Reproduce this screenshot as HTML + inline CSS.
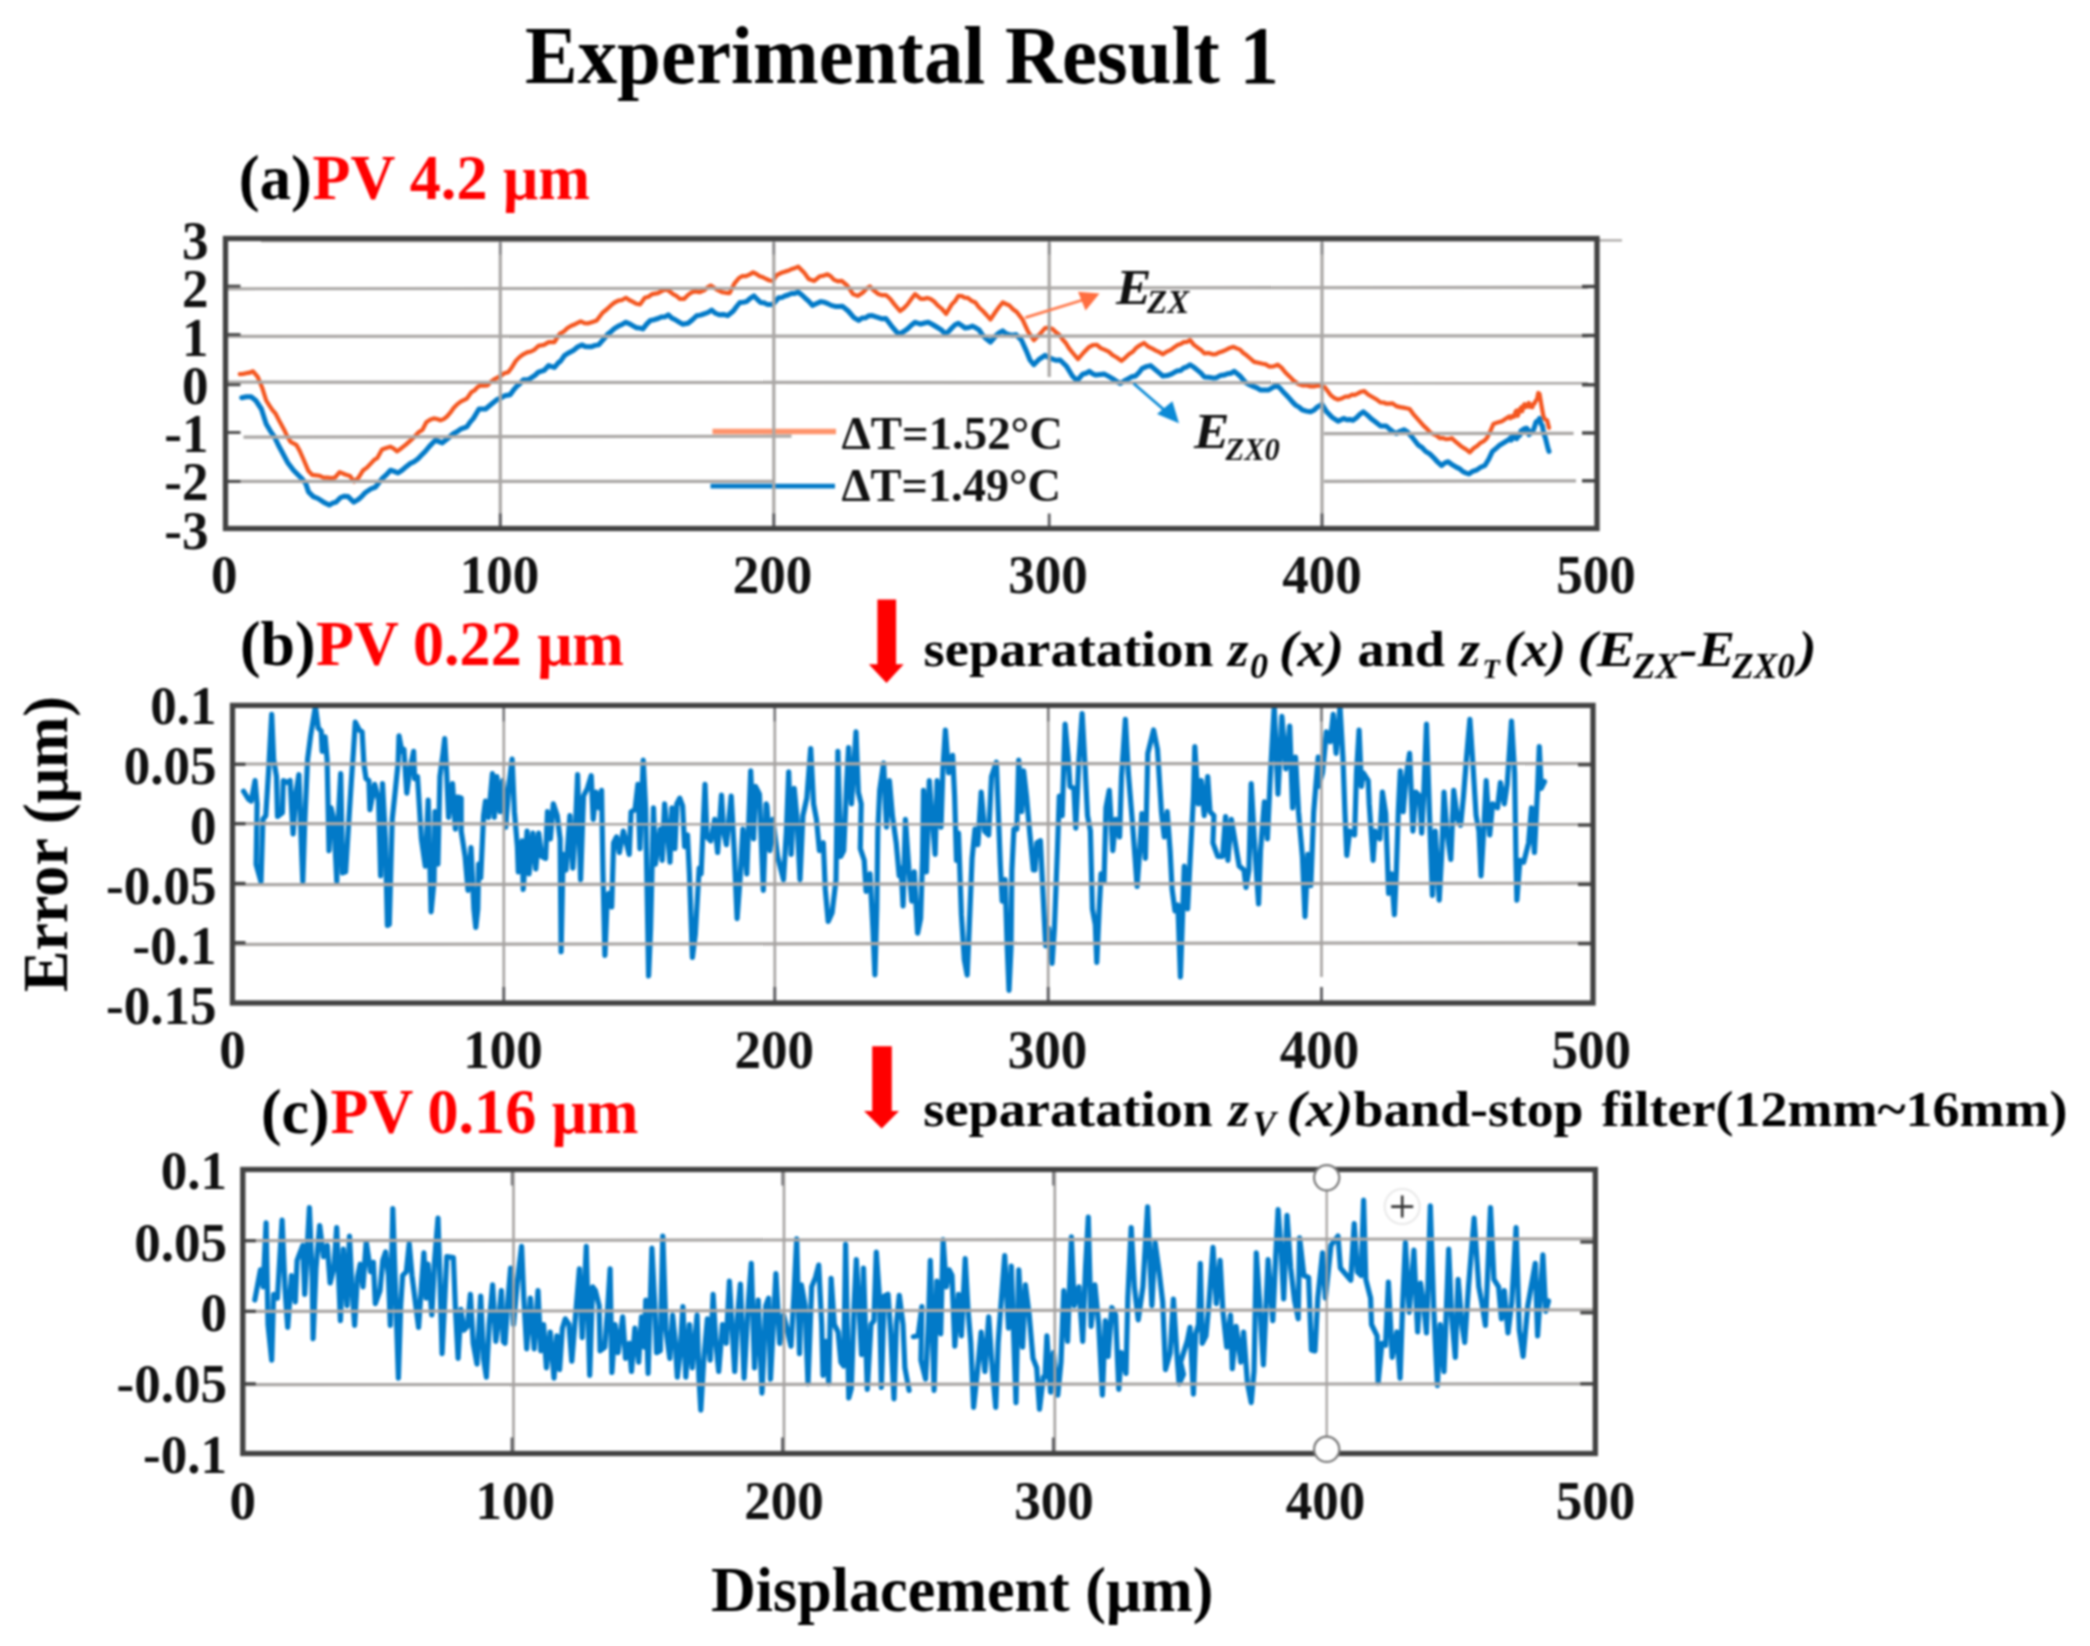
<!DOCTYPE html>
<html><head><meta charset="utf-8"><title>Experimental Result 1</title>
<style>html,body{margin:0;padding:0;background:#fff}svg{display:block;filter:blur(1.1px)}text{font-family:"Liberation Serif",serif;font-weight:bold}</style>
</head><body>
<svg width="2090" height="1646" viewBox="0 0 2090 1646">
<rect x="0" y="0" width="2090" height="1646" fill="#ffffff"/>
<text id="title" x="525" y="82.5" font-size="82" textLength="754" lengthAdjust="spacingAndGlyphs" fill="#000">Experimental Result 1</text>
<g id="plotA">
<polyline points="239.8,374.1 243.1,373.9 246.4,373.2 249.7,372.7 253.0,371.3 257.7,376.9 262.4,388.3 266.2,400.5 269.3,405.4 272.5,410.1 275.6,413.7 279.9,422.1 284.1,429.7 287.4,436.6 290.6,441.9 296.3,444.8 299.6,450.6 302.9,458.0 308.5,471.1 312.3,474.9 316.1,475.3 319.8,475.9 323.6,477.6 327.4,477.7 331.1,478.0 334.9,477.7 339.6,472.1 345.3,474.5 350.0,475.9 354.1,481.5 358.5,477.7 363.2,470.2 366.9,467.6 370.7,463.6 374.0,460.1 377.3,458.0 382.0,449.5 386.2,448.0 390.5,446.7 393.8,448.6 397.1,451.4 401.4,448.2 405.6,444.8 409.8,441.1 414.0,437.2 418.2,432.6 422.5,429.7 426.3,422.2 430.1,419.8 433.8,418.4 437.1,419.0 440.4,420.3 443.7,419.1 447.0,416.5 450.3,412.7 453.6,408.0 457.4,404.1 461.1,401.4 466.8,398.6 471.5,392.0 474.6,390.3 477.8,386.9 480.9,385.4 484.2,385.6 487.5,385.4 491.3,381.4 495.1,378.8 500.7,376.0 504.4,373.2 508.2,372.2 512.0,367.2 515.8,360.9 519.5,357.1 523.3,354.3 527.1,352.4 530.9,351.5 534.6,349.6 538.4,345.9 544.0,344.9 548.7,342.1 554.4,342.1 559.1,334.6 560.0,333.6 563.8,331.5 567.5,328.0 571.3,325.7 575.1,324.2 580.7,321.4 584.5,323.2 588.3,323.3 592.5,321.9 596.7,320.4 602.4,312.9 606.6,309.5 610.9,305.4 614.6,302.5 618.4,300.6 622.1,300.0 625.9,297.8 629.2,300.0 632.5,301.6 636.3,303.8 640.1,304.4 644.8,297.8 648.5,296.7 652.3,294.1 658.0,293.1 662.2,290.8 666.4,289.3 669.7,291.5 673.0,294.1 676.3,295.8 679.6,298.8 684.3,298.8 688.1,294.9 691.9,292.2 695.6,291.4 699.4,292.2 704.1,290.3 707.4,287.6 710.7,285.6 716.4,289.3 722.0,292.2 725.8,292.8 729.6,293.1 734.3,283.7 739.0,278.0 742.3,276.2 745.6,276.2 749.4,274.6 753.1,272.4 756.4,274.0 759.7,276.2 763.0,277.3 766.3,279.0 769.6,280.5 772.9,280.9 776.7,275.2 782.3,272.4 785.6,271.4 788.9,270.5 792.0,268.9 795.2,267.9 798.3,266.7 804.0,272.4 808.7,279.0 814.3,280.9 820.0,276.2 823.8,275.6 827.5,274.3 830.8,276.3 834.1,279.9 837.9,281.3 841.7,280.9 847.3,285.6 853.0,294.1 857.7,295.9 863.3,292.2 866.6,288.5 869.9,286.5 874.1,290.7 878.4,294.1 882.1,295.2 885.9,295.0 890.1,298.8 894.4,304.4 900.0,311.0 903.8,308.2 907.5,304.4 911.3,299.0 915.1,294.1 920.7,298.8 923.8,298.9 927.0,297.9 930.1,298.8 933.9,301.3 937.7,305.4 942.0,309.0 946.2,313.8 951.8,304.4 955.1,301.0 958.4,295.9 961.5,296.0 964.7,297.6 967.8,297.8 971.6,300.9 975.4,302.5 979.1,307.5 982.9,311.0 986.6,315.0 990.4,319.5 996.1,311.0 999.4,306.5 1002.7,302.5 1006.0,304.0 1009.3,305.4 1013.0,309.2 1016.8,312.0 1022.5,319.5 1028.1,331.7 1033.8,340.2 1039.4,334.6 1045.1,328.0 1048.8,327.7 1052.6,328.9 1055.9,332.2 1059.2,334.6 1062.5,339.3 1065.8,343.0 1069.1,348.4 1072.4,352.5 1078.0,359.1 1083.7,352.5 1089.3,346.8 1093.1,345.0 1096.9,344.9 1100.7,348.1 1104.4,349.6 1108.7,351.7 1112.9,355.3 1117.2,357.8 1121.4,360.9 1125.2,357.8 1128.9,354.3 1132.7,351.8 1136.4,347.7 1140.2,345.1 1144.0,343.0 1148.2,346.6 1152.4,348.7 1155.9,350.6 1159.3,352.1 1162.8,354.3 1167.0,351.6 1171.3,349.6 1174.4,347.2 1177.6,345.1 1180.7,344.0 1183.8,342.1 1187.0,341.8 1190.1,340.2 1193.9,344.8 1197.7,347.7 1201.0,349.9 1204.3,353.4 1208.5,353.0 1212.7,354.3 1215.9,354.2 1219.0,352.5 1222.2,351.5 1226.0,349.8 1229.7,347.9 1233.5,346.8 1236.8,348.4 1240.0,349.6 1243.3,353.0 1246.6,355.3 1250.3,358.5 1254.1,361.9 1258.3,362.7 1262.6,363.8 1265.9,364.4 1269.2,366.6 1273.5,366.4 1277.7,364.7 1281.5,367.6 1285.2,372.2 1289.5,376.4 1293.7,380.7 1298.0,383.7 1302.2,385.4 1306.4,385.2 1310.6,386.4 1314.8,386.3 1319.1,385.4 1324.8,387.3 1330.4,394.8 1334.2,398.0 1338.0,399.6 1341.8,398.4 1345.5,396.7 1348.6,396.6 1351.8,394.7 1354.9,394.8 1358.0,393.4 1361.2,391.7 1364.3,391.1 1368.1,394.5 1371.9,396.7 1376.2,399.2 1380.4,402.4 1383.5,402.5 1386.5,403.7 1389.5,403.7 1392.6,403.3 1396.3,406.1 1400.1,407.1 1403.3,407.6 1406.4,408.3 1409.6,409.0 1413.3,414.1 1417.1,418.4 1420.4,422.1 1423.7,425.9 1427.0,428.8 1430.3,432.5 1433.4,434.2 1436.6,435.7 1439.7,438.2 1442.8,438.0 1445.8,439.1 1448.9,439.0 1451.9,438.2 1456.2,442.2 1460.4,445.7 1463.5,447.9 1466.7,449.8 1469.8,452.3 1473.6,448.3 1477.4,445.7 1480.5,442.8 1483.7,441.2 1486.8,438.2 1490.1,431.8 1493.4,424.0 1497.7,422.4 1501.9,421.2 1509.2,416.4 1510.3,418.2 1511.3,417.5 1512.4,415.9 1513.4,416.9 1514.5,416.3 1515.6,411.6 1516.7,410.6 1517.7,415.8 1518.8,412.7 1519.9,409.3 1521.1,407.4 1522.2,411.2 1523.4,405.8 1524.5,404.3 1525.6,407.0 1526.7,404.7 1527.8,406.2 1528.9,403.0 1530.0,406.8 1531.1,406.1 1532.3,407.3 1533.4,403.5 1534.6,403.6 1535.8,400.5 1537.0,399.5 1538.3,393.0 1539.5,393.9 1541.4,405.2 1543.3,415.6 1544.6,419.0 1547.1,420.3 1549.0,427.8" fill="none" stroke="#f4561f" stroke-width="4.2" stroke-linejoin="round" stroke-linecap="round"/>
<polyline points="241.7,397.7 246.4,396.7 251.1,396.7 255.8,400.5 261.4,409.0 266.2,424.0 270.4,431.1 274.6,437.2 278.4,445.3 282.2,452.3 287.8,462.7 293.5,470.2 297.2,473.9 301.0,477.7 305.7,483.4 308.5,491.9 313.3,496.6 318.0,498.5 323.6,502.2 329.3,505.1 332.6,503.2 335.9,502.2 340.6,497.5 344.4,496.2 348.1,496.6 353.8,502.2 358.5,499.4 361.8,496.4 365.1,492.8 370.7,489.0 375.4,487.2 378.7,482.9 382.0,478.7 386.2,474.9 390.5,470.2 394.2,471.4 398.0,473.0 402.2,470.2 406.5,466.4 410.2,463.6 414.0,461.7 417.8,458.9 421.6,455.1 425.4,451.3 429.1,446.7 432.4,443.2 435.7,440.1 439.0,441.6 442.3,442.9 448.0,438.2 453.6,433.5 457.4,431.5 461.1,428.8 466.8,426.9 470.1,422.1 473.4,418.4 479.0,409.0 482.3,409.1 485.6,409.0 491.3,404.3 496.9,399.6 500.7,398.2 504.5,395.8 510.1,394.8 513.4,390.2 516.7,386.4 520.0,383.6 523.3,379.8 528.0,379.8 531.5,377.6 534.9,375.4 538.4,372.2 544.0,370.4 548.7,365.6 554.4,367.5 559.1,361.9 560.0,361.9 564.7,355.3 569.0,352.7 573.2,350.6 577.5,347.0 581.7,344.9 585.0,346.4 588.3,346.8 591.7,346.7 595.2,345.4 598.6,344.9 604.3,338.3 607.6,334.3 610.9,331.7 614.6,328.4 618.4,326.1 622.1,324.4 625.9,322.3 629.7,323.8 633.5,326.1 636.6,327.8 639.8,328.1 642.9,328.9 646.6,324.1 650.4,320.4 654.2,319.7 658.0,318.5 661.4,317.0 664.9,316.8 668.3,314.8 671.6,317.9 674.9,319.5 678.7,321.9 682.5,324.2 688.1,323.3 692.4,319.8 696.6,315.7 700.4,315.1 704.1,313.8 707.9,312.5 711.7,310.1 715.5,313.3 719.2,314.8 723.5,314.4 727.7,315.7 733.3,311.0 736.6,306.5 739.9,302.5 743.2,302.2 746.5,301.6 750.2,298.4 754.0,295.9 757.3,299.4 760.6,302.5 763.9,302.7 767.2,304.4 772.9,304.4 778.5,297.8 781.7,297.6 784.8,296.0 788.0,295.0 791.4,293.4 794.9,293.4 798.3,292.2 801.6,294.7 804.9,297.8 808.6,301.1 812.4,305.4 816.6,303.5 820.9,301.6 824.4,302.2 827.8,303.6 831.3,305.4 835.1,306.4 838.8,306.4 842.6,306.3 848.2,311.0 853.9,317.6 858.6,320.4 862.1,318.0 865.5,317.8 869.0,315.7 872.1,315.5 875.3,316.7 878.4,317.6 882.1,318.8 885.9,318.5 891.6,326.1 897.2,332.7 900.0,333.6 903.8,331.5 907.5,328.9 911.3,325.3 915.1,322.3 920.7,324.2 924.5,323.0 928.3,322.3 932.5,324.5 936.7,327.0 941.0,329.6 945.2,333.6 948.5,331.7 951.8,328.0 955.1,324.8 958.4,323.3 961.7,325.5 965.0,328.0 968.8,327.5 972.5,326.1 975.8,327.8 979.1,329.8 982.4,334.9 985.7,338.3 990.4,342.1 996.1,335.5 999.4,332.7 1002.7,330.8 1006.0,333.6 1009.3,334.6 1012.6,335.3 1015.9,334.6 1021.5,340.2 1026.2,350.6 1030.0,360.0 1033.8,364.7 1039.4,359.1 1045.1,355.3 1048.8,357.5 1052.6,359.1 1056.3,360.3 1060.1,360.0 1063.4,363.2 1066.7,366.6 1072.4,376.0 1077.1,380.7 1082.7,374.1 1086.0,373.3 1089.3,371.3 1092.6,373.7 1095.9,375.1 1100.2,374.6 1104.4,374.1 1108.7,376.4 1112.9,378.8 1116.7,381.5 1120.4,383.5 1124.2,381.0 1128.0,378.8 1131.8,376.7 1135.5,376.0 1138.8,372.7 1142.1,368.5 1146.3,366.6 1150.6,365.6 1156.2,370.4 1159.5,373.2 1162.8,376.0 1167.0,375.6 1171.3,374.1 1174.4,372.3 1177.6,370.8 1180.7,370.4 1183.8,367.8 1187.0,366.8 1190.1,364.7 1193.9,367.3 1197.7,370.4 1201.0,373.2 1204.3,376.9 1208.5,377.3 1212.7,377.9 1216.5,377.7 1220.2,375.6 1224.0,375.1 1227.5,373.7 1230.9,373.2 1234.4,371.3 1240.0,376.0 1245.7,382.6 1249.5,384.7 1253.2,386.4 1257.0,387.8 1260.7,390.1 1264.5,390.1 1268.3,390.1 1272.5,387.7 1276.7,385.4 1280.0,388.1 1283.3,392.0 1286.5,395.2 1289.6,398.6 1292.8,402.4 1295.9,405.4 1299.1,407.1 1302.2,409.9 1306.4,411.1 1310.6,411.8 1313.9,410.3 1317.2,407.1 1322.0,404.3 1326.7,411.8 1332.3,417.5 1338.0,421.2 1343.6,418.4 1346.7,419.8 1349.9,419.4 1353.0,420.3 1356.5,417.7 1359.9,414.3 1363.4,411.8 1367.7,415.4 1371.9,419.3 1376.2,422.6 1380.4,425.9 1386.0,425.9 1389.5,429.0 1392.9,431.8 1396.4,433.5 1400.2,431.2 1403.9,429.7 1407.7,432.1 1411.4,436.3 1414.7,440.5 1418.0,444.8 1421.8,447.3 1425.6,451.4 1429.8,453.9 1434.0,458.0 1437.8,462.2 1441.6,465.5 1444.9,462.9 1448.2,461.7 1452.5,464.9 1456.7,467.4 1459.8,468.8 1462.8,471.5 1465.9,473.0 1468.9,474.0 1472.7,471.3 1476.4,470.2 1480.7,467.3 1484.9,465.5 1488.7,459.3 1492.4,451.4 1495.7,448.8 1499.0,445.7 1509.2,439.3 1510.3,438.0 1511.3,440.1 1512.4,438.6 1513.4,436.3 1514.5,434.9 1515.6,436.2 1516.7,438.7 1517.7,437.1 1518.8,434.4 1519.9,435.2 1521.1,430.7 1522.2,431.8 1523.4,429.2 1524.5,429.7 1525.6,428.2 1526.7,428.3 1527.9,429.6 1529.0,434.7 1530.1,432.5 1531.3,433.0 1532.4,431.2 1533.6,429.5 1534.8,425.9 1536.0,422.1 1537.2,420.9 1538.3,421.1 1539.5,418.4 1541.0,423.6 1542.4,425.9 1543.8,433.8 1545.2,437.2 1548.0,448.5 1549.0,451.4" fill="none" stroke="#027ac8" stroke-width="5.0" stroke-linejoin="round" stroke-linecap="round"/>
<line x1="712.5" y1="431.5" x2="836" y2="431.5" stroke="#ff946c" stroke-width="5.4"/>
<line x1="710.5" y1="486.1" x2="835" y2="486.1" stroke="#027ac8" stroke-width="4.8"/>
<line x1="261" y1="241.2" x2="1622" y2="240.4" stroke="#aaa7a5" stroke-width="2.2"/>
<line x1="225.5" y1="288.8" x2="1588" y2="287.4" stroke="#aaa7a5" stroke-width="3.2"/>
<line x1="225.5" y1="336.4" x2="1588" y2="335.8" stroke="#aaa7a5" stroke-width="3.2"/>
<line x1="225.5" y1="382.2" x2="1588" y2="382.9" stroke="#aaa7a5" stroke-width="3.2"/>
<line x1="243.5" y1="437.2" x2="791.5" y2="436.2" stroke="#aaa7a5" stroke-width="3.2"/>
<line x1="1324" y1="433.6" x2="1573.6" y2="433.4" stroke="#aaa7a5" stroke-width="3.2"/>
<line x1="225.5" y1="481.3" x2="774" y2="481.3" stroke="#aaa7a5" stroke-width="3.2"/>
<line x1="1324" y1="481.3" x2="1576" y2="480.8" stroke="#aaa7a5" stroke-width="3.2"/>
<line x1="500.3" y1="243" x2="500.3" y2="528.5" stroke="#aaa7a5" stroke-width="3.2"/>
<line x1="773.8" y1="243" x2="773.8" y2="528.5" stroke="#aaa7a5" stroke-width="3.2"/>
<line x1="1049.2" y1="243" x2="1049.2" y2="377" stroke="#aaa7a5" stroke-width="3.2"/>
<line x1="1322" y1="243" x2="1322" y2="528.5" stroke="#aaa7a5" stroke-width="3.2"/>
<line x1="500.3" y1="238.5" x2="500.3" y2="254.5" stroke="#8a8a8c" stroke-width="2.4"/>
<line x1="500.3" y1="513.5" x2="500.3" y2="528.5" stroke="#5c5c60" stroke-width="2.8"/>
<line x1="773.8" y1="238.5" x2="773.8" y2="254.5" stroke="#8a8a8c" stroke-width="2.4"/>
<line x1="773.8" y1="513.5" x2="773.8" y2="528.5" stroke="#5c5c60" stroke-width="2.8"/>
<line x1="1049.2" y1="238.5" x2="1049.2" y2="254.5" stroke="#8a8a8c" stroke-width="2.4"/>
<line x1="1049.2" y1="513.5" x2="1049.2" y2="528.5" stroke="#5c5c60" stroke-width="2.8"/>
<line x1="1322" y1="238.5" x2="1322" y2="254.5" stroke="#8a8a8c" stroke-width="2.4"/>
<line x1="1322" y1="513.5" x2="1322" y2="528.5" stroke="#5c5c60" stroke-width="2.8"/>
<line x1="225.5" y1="286.1" x2="240.5" y2="286.1" stroke="#484848" stroke-width="2.8"/>
<line x1="1582" y1="286.5" x2="1597" y2="286.5" stroke="#444" stroke-width="3.4"/>
<line x1="225.5" y1="334.5" x2="240.5" y2="334.5" stroke="#484848" stroke-width="2.8"/>
<line x1="1582" y1="335.5" x2="1597" y2="335.5" stroke="#444" stroke-width="3.4"/>
<line x1="225.5" y1="384.8" x2="240.5" y2="384.8" stroke="#484848" stroke-width="2.8"/>
<line x1="1582" y1="384.8" x2="1597" y2="384.8" stroke="#444" stroke-width="3.4"/>
<line x1="225.5" y1="432.5" x2="240.5" y2="432.5" stroke="#484848" stroke-width="2.8"/>
<line x1="1582" y1="433" x2="1597" y2="433" stroke="#444" stroke-width="3.4"/>
<line x1="225.5" y1="481.4" x2="240.5" y2="481.4" stroke="#484848" stroke-width="2.8"/>
<line x1="1582" y1="480.8" x2="1597" y2="480.8" stroke="#444" stroke-width="3.4"/>
<rect x="225.5" y="238.5" width="1371.5" height="290.0" fill="none" stroke="#424242" stroke-width="5.3"/>
<text id="leg1" x="841.5" y="448.5" font-size="46" textLength="221.5" lengthAdjust="spacingAndGlyphs" fill="#111">ΔT=1.52°C</text>
<text id="leg2" x="841.5" y="501.3" font-size="46" textLength="219.5" lengthAdjust="spacingAndGlyphs" fill="#111">ΔT=1.49°C</text>
<line x1="1025.3" y1="317.6" x2="1086" y2="299" stroke="#ff7a4d" stroke-width="2.8"/>
<polygon points="1099.5,293.5 1078,291.8 1085.6,310.5" fill="#ff6e40"/>
<line x1="1133.6" y1="383.5" x2="1166" y2="411.5" stroke="#0a8ad6" stroke-width="2.8"/>
<polygon points="1179,423.3 1157,413.9 1172.4,401.2" fill="#0a8ad6"/>
<text class="ya" transform="translate(208.5,258.8) scale(0.955,1)" font-size="55.5" text-anchor="end" fill="#111">3</text>
<text class="ya" transform="translate(208.5,307.4) scale(0.955,1)" font-size="55.5" text-anchor="end" fill="#111">2</text>
<text class="ya" transform="translate(208.5,355.5) scale(0.955,1)" font-size="55.5" text-anchor="end" fill="#111">1</text>
<text class="ya" transform="translate(208.5,403.8) scale(0.955,1)" font-size="55.5" text-anchor="end" fill="#111">0</text>
<text class="ya" transform="translate(208.5,451.9) scale(0.955,1)" font-size="55.5" text-anchor="end" fill="#111">-1</text>
<text class="ya" transform="translate(208.5,500) scale(0.955,1)" font-size="55.5" text-anchor="end" fill="#111">-2</text>
<text class="ya" transform="translate(208.5,549) scale(0.955,1)" font-size="55.5" text-anchor="end" fill="#111">-3</text>
<text class="xa" transform="translate(224.3,593) scale(0.955,1)" font-size="55.5" text-anchor="middle" fill="#111">0</text>
<text class="xa" transform="translate(499.5,593) scale(0.955,1)" font-size="55.5" text-anchor="middle" fill="#111">100</text>
<text class="xa" transform="translate(772.5,593) scale(0.955,1)" font-size="55.5" text-anchor="middle" fill="#111">200</text>
<text class="xa" transform="translate(1048,593) scale(0.955,1)" font-size="55.5" text-anchor="middle" fill="#111">300</text>
<text class="xa" transform="translate(1322,593) scale(0.955,1)" font-size="55.5" text-anchor="middle" fill="#111">400</text>
<text class="xa" transform="translate(1596,593) scale(0.955,1)" font-size="55.5" text-anchor="middle" fill="#111">500</text>
</g>
<text id="ezx"><tspan x="1116" y="303.6" font-size="50" fill="#111" font-style="italic" textLength="35.5" lengthAdjust="spacingAndGlyphs">E</tspan><tspan x="1147" y="312.9" font-size="33" fill="#111" font-style="italic">ZX</tspan></text>
<text id="ezx0"><tspan x="1194" y="448.4" font-size="50" fill="#111" font-style="italic" textLength="35.5" lengthAdjust="spacingAndGlyphs">E</tspan><tspan x="1225.5" y="460.3" font-size="30.5" fill="#111" font-style="italic">ZX0</tspan></text>
<text id="la"><tspan x="238.8" y="199.3" font-size="64" fill="#000" textLength="73" lengthAdjust="spacingAndGlyphs">(a)</tspan><tspan x="312.5" y="199.3" font-size="64" fill="#ff0000" textLength="277.5" lengthAdjust="spacingAndGlyphs">PV 4.2 μm</tspan></text>
<text id="lb"><tspan x="240" y="665.3" font-size="64" fill="#000" textLength="75.5" lengthAdjust="spacingAndGlyphs">(b)</tspan><tspan x="316" y="665.3" font-size="64" fill="#ff0000" textLength="308" lengthAdjust="spacingAndGlyphs">PV 0.22 μm</tspan></text>
<text id="lc"><tspan x="261" y="1133.3" font-size="64" fill="#000" textLength="68.5" lengthAdjust="spacingAndGlyphs">(c)</tspan><tspan x="330.5" y="1133.3" font-size="64" fill="#ff0000" textLength="308" lengthAdjust="spacingAndGlyphs">PV 0.16 μm</tspan></text>
<polygon points="877.4,599.6 896.1,599.6 896.1,664.2 903.7,664.2 886.5,682.9 868.8,664.2 877.4,664.2" fill="#ff0000"/>
<polygon points="872.2,1046.3 891.8,1046.3 891.8,1110.9 899,1110.9 881.7,1128.6 864,1110.9 872.2,1110.9" fill="#ff0000"/>
<text id="tb"><tspan x="923.6" y="665.8" font-size="51.6" fill="#000" textLength="290" lengthAdjust="spacingAndGlyphs">separatation</tspan> <tspan x="1228" y="665.8" font-size="51.6" fill="#000" font-style="italic" textLength="20.5" lengthAdjust="spacingAndGlyphs">z</tspan><tspan x="1250" y="677.6" font-size="36" fill="#000" font-style="italic">0</tspan> <tspan x="1279" y="665.8" font-size="51.6" fill="#000" font-style="italic" textLength="65" lengthAdjust="spacingAndGlyphs">(x)</tspan> <tspan x="1357.5" y="665.8" font-size="51.6" fill="#000" textLength="87.5" lengthAdjust="spacingAndGlyphs">and</tspan> <tspan x="1459.5" y="665.8" font-size="51.6" fill="#000" font-style="italic" textLength="20.5" lengthAdjust="spacingAndGlyphs">z</tspan><tspan x="1482.5" y="677.5" font-size="28" fill="#000" font-style="italic">T</tspan><tspan x="1504" y="665.8" font-size="51.6" fill="#000" font-style="italic" textLength="62" lengthAdjust="spacingAndGlyphs">(x)</tspan> <tspan x="1577.5" y="665.8" font-size="51.6" fill="#000" font-style="italic" textLength="58" lengthAdjust="spacingAndGlyphs">(E</tspan><tspan x="1633" y="678.3" font-size="36" fill="#000" font-style="italic" textLength="46.5" lengthAdjust="spacingAndGlyphs">ZX</tspan><tspan x="1679" y="665.8" font-size="51.6" fill="#000" font-style="italic" textLength="56" lengthAdjust="spacingAndGlyphs">-E</tspan><tspan x="1732" y="678.3" font-size="36" fill="#000" font-style="italic" textLength="63" lengthAdjust="spacingAndGlyphs">ZX0</tspan><tspan x="1798.5" y="665.8" font-size="51.6" fill="#000" font-style="italic" textLength="18" lengthAdjust="spacingAndGlyphs">)</tspan></text>
<text id="tc"><tspan x="923.3" y="1125.7" font-size="51" fill="#000" textLength="289.5" lengthAdjust="spacingAndGlyphs">separatation</tspan> <tspan x="1228.5" y="1125.7" font-size="51" fill="#000" font-style="italic" textLength="20.5" lengthAdjust="spacingAndGlyphs">z</tspan><tspan x="1252.5" y="1136" font-size="35" fill="#000" font-style="italic">V</tspan> <tspan x="1286.5" y="1125.7" font-size="51" fill="#000" font-style="italic" textLength="67" lengthAdjust="spacingAndGlyphs">(x)</tspan><tspan x="1353.5" y="1125.7" font-size="51" fill="#000" textLength="230" lengthAdjust="spacingAndGlyphs">band-stop</tspan> <tspan x="1601.5" y="1125.7" font-size="51" fill="#000" textLength="466" lengthAdjust="spacingAndGlyphs">filter(12mm~16mm)</tspan></text>
<g id="plotB">
<polyline points="243.5,791.2 248.3,799.0 251.2,801.0 255.1,780.6 257.1,803.9 256.1,864.2 261.0,881.7 262.9,819.4 265.8,815.6 268.7,768.9 271.7,714.4 273.6,759.2 276.5,776.7 277.5,816.5 282.4,812.6 283.3,780.6 287.2,782.5 290.1,780.6 293.1,834.0 296.0,792.2 298.9,774.7 301.8,856.4 302.8,881.7 304.7,823.3 307.6,759.2 310.6,735.8 315.4,706.7 318.3,728.1 321.2,731.0 322.2,751.4 325.1,736.8 327.1,759.2 329.0,850.6 331.0,807.8 333.9,819.4 336.8,881.7 338.7,811.7 340.7,773.7 342.6,872.9 345.6,871.9 349.4,811.7 351.4,780.6 353.3,753.3 355.3,722.2 359.2,730.0 362.1,731.9 364.0,765.0 366.0,778.6 368.9,780.6 369.9,809.7 374.7,784.4 378.6,800.0 380.6,875.8 382.5,783.5 385.4,838.9 387.4,925.4 389.3,924.4 392.2,819.4 395.1,792.2 398.1,763.1 399.0,735.8 401.9,751.4 403.9,749.4 406.8,793.2 409.7,770.8 413.6,751.4 414.6,778.6 417.5,776.7 421.4,838.9 425.3,866.1 428.2,800.0 431.1,911.8 434.0,881.7 435.0,811.7 437.9,864.2 439.9,776.7 442.8,755.3 444.7,738.7 446.7,772.8 448.6,817.5 452.5,783.5 455.4,829.2 457.4,797.1 461.2,798.1 461.2,831.1 465.1,856.4 468.0,890.4 471.0,847.6 473.9,908.9 475.8,927.4 477.8,908.9 478.7,864.2 480.7,877.8 483.6,815.6 485.5,801.0 488.5,817.5 492.4,773.7 494.3,817.5 495.0,796.1 496.9,776.7 499.9,811.7 502.8,780.6 505.7,827.2 508.6,788.3 512.1,759.2 514.4,811.7 517.4,846.7 518.3,871.9 522.2,840.8 523.2,889.4 527.1,831.1 529.0,873.9 532.9,833.1 535.8,869.0 538.7,833.1 541.7,856.4 545.6,858.3 547.5,811.7 550.4,838.9 553.3,803.9 557.2,815.6 560.1,838.9 561.1,951.7 563.1,854.4 566.0,870.0 569.9,815.6 572.8,868.1 575.7,821.4 577.6,774.7 580.6,879.7 583.5,796.1 587.4,788.3 591.2,775.7 593.2,819.4 596.1,792.2 599.0,807.8 601.6,790.3 602.9,870.0 604.9,955.5 606.8,908.9 608.7,893.3 611.7,906.9 613.6,842.8 616.5,836.9 619.4,852.5 623.3,831.1 629.2,854.4 631.1,811.7 635.0,809.7 637.9,784.4 639.9,848.6 643.2,760.1 645.7,809.7 648.6,976.0 650.6,928.3 653.5,807.8 655.4,864.2 660.3,829.2 662.2,860.3 664.6,803.9 667.1,829.2 670.0,862.2 671.9,807.8 674.9,848.6 676.8,803.9 679.7,798.1 682.6,805.8 684.6,846.7 687.5,835.0 689.4,873.9 692.4,957.5 695.3,934.2 699.2,868.1 701.1,873.9 705.0,784.4 706.9,836.9 710.8,840.8 714.7,819.4 717.6,852.5 721.5,795.1 723.5,831.1 726.4,844.7 731.2,796.1 734.2,850.6 737.1,918.6 740.0,879.7 742.9,829.2 746.8,873.9 750.7,770.8 753.6,838.9 755.5,786.4 759.4,794.2 763.3,890.4 766.2,803.9 766.9,805.8 769.9,850.6 772.8,819.4 777.6,856.4 783.5,879.7 786.4,831.1 788.7,771.8 791.2,854.4 794.2,788.3 797.1,819.4 800.0,879.7 802.9,815.6 806.8,798.1 810.7,748.5 813.6,803.9 816.5,819.4 819.4,850.6 823.3,842.8 825.3,889.4 828.2,921.5 832.1,912.8 836.0,879.7 837.9,751.4 840.8,856.4 843.7,850.6 846.7,782.5 848.6,747.5 851.5,803.9 856.0,731.9 858.3,792.2 861.2,803.9 860.3,848.6 864.2,860.3 866.1,891.4 870.0,873.9 872.9,928.3 874.9,975.0 876.8,908.9 877.8,831.1 879.7,790.3 883.6,763.1 886.5,827.2 889.4,780.6 892.4,815.6 896.2,842.8 899.2,875.8 901.1,868.1 903.1,906.0 905.4,819.4 908.9,870.0 911.8,901.1 914.3,871.9 917.6,933.2 920.6,918.6 922.5,860.3 923.5,790.3 926.4,871.9 929.3,780.6 932.2,819.4 935.1,854.4 937.1,780.6 941.0,827.2 942.9,768.9 945.4,730.0 948.7,772.8 952.6,755.3 954.6,796.1 956.5,860.3 958.5,833.1 961.4,914.7 964.3,959.4 967.2,975.0 969.2,928.3 972.1,858.3 975.0,829.2 977.9,844.7 981.2,792.2 984.7,831.1 988.6,835.0 991.5,776.7 996.4,762.1 998.3,811.7 1000.3,864.2 1002.2,901.1 1005.1,879.7 1007.1,943.9 1009.0,990.5 1011.0,947.8 1011.9,870.0 1013.9,829.2 1016.8,829.2 1018.7,760.1 1021.7,811.7 1023.6,770.8 1026.5,796.1 1029.4,829.2 1033.3,870.0 1035.0,870.0 1036.9,842.8 1040.4,840.8 1042.8,889.4 1045.7,945.8 1048.6,928.3 1052.1,963.3 1054.4,928.3 1057.4,850.6 1059.3,796.1 1062.2,815.6 1065.1,724.2 1068.1,757.2 1070.0,786.4 1073.9,788.3 1075.8,828.2 1078.7,763.1 1082.1,713.5 1085.2,768.9 1087.5,815.6 1090.4,831.1 1092.4,908.9 1095.3,924.4 1096.8,962.4 1099.2,908.9 1101.1,873.9 1104.0,881.7 1106.0,807.8 1109.3,790.3 1112.8,850.6 1115.7,819.4 1119.6,836.9 1121.5,776.7 1125.4,719.3 1128.3,772.8 1132.2,819.4 1135.1,858.3 1137.1,886.5 1140.0,846.7 1141.9,813.6 1145.4,858.3 1147.8,753.3 1153.6,730.0 1157.5,749.4 1161.4,811.7 1164.3,836.9 1167.2,811.7 1170.1,850.6 1172.1,889.4 1175.0,910.8 1177.9,905.0 1180.4,976.9 1182.8,908.9 1184.3,866.1 1187.6,908.9 1190.6,850.6 1193.5,796.1 1194.8,746.5 1198.3,803.9 1201.2,780.6 1204.2,815.6 1207.7,776.7 1210.0,811.7 1213.9,815.6 1212.9,842.8 1217.8,856.4 1222.6,856.4 1225.6,816.5 1227.9,860.3 1231.4,819.4 1237.2,854.4 1239.2,866.1 1244.0,870.0 1246.0,887.5 1248.9,870.0 1251.2,783.5 1254.7,846.7 1258.6,904.0 1260.5,850.6 1264.4,801.9 1267.4,838.9 1270.3,776.7 1274.2,706.7 1278.0,794.2 1281.9,716.4 1285.8,768.9 1289.7,726.1 1292.6,807.8 1295.5,757.2 1298.5,811.7 1302.4,856.4 1305.0,916.7 1307.9,854.4 1310.8,885.6 1313.7,811.7 1318.2,757.2 1318.6,786.4 1322.5,772.8 1326.4,731.9 1330.3,741.7 1333.2,714.4 1336.1,753.3 1340.0,706.7 1342.9,757.2 1344.9,811.7 1346.8,855.4 1349.7,831.1 1354.6,835.0 1356.5,772.8 1359.1,730.0 1361.4,786.4 1363.3,772.8 1368.2,780.6 1369.2,803.9 1373.1,860.3 1375.0,831.1 1379.9,838.9 1382.4,792.2 1385.7,813.6 1388.6,893.3 1391.5,873.9 1394.4,914.7 1396.4,870.0 1398.3,811.7 1400.3,770.8 1403.2,811.7 1406.1,776.7 1409.6,753.3 1412.9,831.1 1415.8,792.2 1419.7,796.1 1421.7,833.1 1424.0,788.3 1426.5,724.2 1429.4,811.7 1432.4,895.3 1435.3,831.1 1439.2,900.1 1442.1,846.7 1444.0,792.2 1446.9,831.1 1450.8,859.3 1453.7,790.3 1457.6,819.4 1460.6,825.3 1463.5,796.1 1466.4,759.2 1469.9,719.3 1473.2,768.9 1476.1,815.6 1479.0,831.1 1481.0,875.8 1483.9,827.2 1486.2,780.6 1489.7,835.0 1492.6,803.9 1497.5,807.8 1500.4,782.5 1504.3,803.9 1507.2,784.4 1511.5,721.2 1514.6,772.8 1516.0,860.3 1516.9,900.1 1519.9,860.3 1523.7,862.2 1528.6,842.8 1531.5,807.8 1534.4,852.5 1537.4,792.2 1539.3,746.5 1541.2,788.3 1544.5,781.5" fill="none" stroke="#027ac8" stroke-width="5.2" stroke-linejoin="round" stroke-linecap="round"/>
<line x1="232.5" y1="764.0" x2="1593" y2="763.5" stroke="#aaa7a5" stroke-width="3.2"/>
<line x1="232.5" y1="823.7" x2="1593" y2="824.1" stroke="#aaa7a5" stroke-width="3.2"/>
<line x1="232.5" y1="884.7" x2="1593" y2="883.2" stroke="#aaa7a5" stroke-width="3.2"/>
<line x1="232.5" y1="944.4" x2="1593" y2="942.8" stroke="#aaa7a5" stroke-width="3.2"/>
<line x1="503.8" y1="705.4" x2="503.8" y2="1003" stroke="#a6a3a1" stroke-width="2.6"/>
<line x1="774.8" y1="705.4" x2="774.8" y2="1003" stroke="#a6a3a1" stroke-width="2.6"/>
<line x1="1048.2" y1="705.4" x2="1048.2" y2="1003" stroke="#a6a3a1" stroke-width="2.6"/>
<line x1="1321.5" y1="705.4" x2="1321.5" y2="977" stroke="#a6a3a1" stroke-width="2.6"/>
<line x1="503.8" y1="705.4" x2="503.8" y2="721.4" stroke="#77777a" stroke-width="2.4"/>
<line x1="503.8" y1="987" x2="503.8" y2="1003" stroke="#5c5c60" stroke-width="2.8"/>
<line x1="774.8" y1="705.4" x2="774.8" y2="721.4" stroke="#77777a" stroke-width="2.4"/>
<line x1="774.8" y1="987" x2="774.8" y2="1003" stroke="#5c5c60" stroke-width="2.8"/>
<line x1="1048.2" y1="705.4" x2="1048.2" y2="721.4" stroke="#77777a" stroke-width="2.4"/>
<line x1="1048.2" y1="987" x2="1048.2" y2="1003" stroke="#5c5c60" stroke-width="2.8"/>
<line x1="1321.5" y1="705.4" x2="1321.5" y2="721.4" stroke="#77777a" stroke-width="2.4"/>
<line x1="1321.5" y1="987" x2="1321.5" y2="1003" stroke="#5c5c60" stroke-width="2.8"/>
<line x1="232.5" y1="764.3" x2="245.5" y2="764.3" stroke="#444" stroke-width="3.2"/>
<line x1="1578" y1="764.8" x2="1593" y2="764.8" stroke="#444" stroke-width="3.2"/>
<line x1="232.5" y1="823.7" x2="245.5" y2="823.7" stroke="#444" stroke-width="3.2"/>
<line x1="1578" y1="825.1" x2="1593" y2="825.1" stroke="#444" stroke-width="3.2"/>
<line x1="232.5" y1="883.4" x2="245.5" y2="883.4" stroke="#444" stroke-width="3.2"/>
<line x1="1578" y1="884.4" x2="1593" y2="884.4" stroke="#444" stroke-width="3.2"/>
<line x1="232.5" y1="942.7" x2="245.5" y2="942.7" stroke="#444" stroke-width="3.2"/>
<line x1="1578" y1="943.7" x2="1593" y2="943.7" stroke="#444" stroke-width="3.2"/>
<rect x="232.5" y="705.4" width="1360.5" height="297.6" fill="none" stroke="#424242" stroke-width="5.3"/>
<text class="yb" transform="translate(216.5,724.3) scale(0.955,1)" font-size="55.5" text-anchor="end" fill="#111">0.1</text>
<text class="yb" transform="translate(216.5,784.3) scale(0.955,1)" font-size="55.5" text-anchor="end" fill="#111">0.05</text>
<text class="yb" transform="translate(216.5,844.2) scale(0.955,1)" font-size="55.5" text-anchor="end" fill="#111">0</text>
<text class="yb" transform="translate(216.5,904) scale(0.955,1)" font-size="55.5" text-anchor="end" fill="#111">-0.05</text>
<text class="yb" transform="translate(216.5,963.7) scale(0.955,1)" font-size="55.5" text-anchor="end" fill="#111">-0.1</text>
<text class="yb" transform="translate(216.5,1023.5) scale(0.955,1)" font-size="55.5" text-anchor="end" fill="#111">-0.15</text>
<text class="xb" transform="translate(232.5,1068) scale(0.955,1)" font-size="55.5" text-anchor="middle" fill="#111">0</text>
<text class="xb" transform="translate(503,1068) scale(0.955,1)" font-size="55.5" text-anchor="middle" fill="#111">100</text>
<text class="xb" transform="translate(774.2,1068) scale(0.955,1)" font-size="55.5" text-anchor="middle" fill="#111">200</text>
<text class="xb" transform="translate(1047.5,1068) scale(0.955,1)" font-size="55.5" text-anchor="middle" fill="#111">300</text>
<text class="xb" transform="translate(1319.6,1068) scale(0.955,1)" font-size="55.5" text-anchor="middle" fill="#111">400</text>
<text class="xb" transform="translate(1591.2,1068) scale(0.955,1)" font-size="55.5" text-anchor="middle" fill="#111">500</text>
</g>
<g id="plotC">
<polyline points="254.8,1300.0 260.4,1269.9 263.2,1286.8 266.1,1222.8 268.0,1324.5 271.7,1360.2 273.6,1294.3 277.4,1298.1 282.1,1220.0 284.9,1286.8 287.7,1327.3 291.5,1275.5 295.3,1301.9 297.1,1260.4 302.8,1245.4 304.7,1294.3 309.4,1207.7 312.2,1277.4 313.1,1338.6 316.0,1268.0 319.7,1225.6 323.5,1256.7 327.3,1245.4 330.1,1283.0 333.9,1268.0 336.7,1227.5 340.4,1320.7 343.3,1249.1 347.0,1305.6 349.5,1236.0 351.7,1283.0 354.6,1325.4 357.4,1277.4 360.2,1264.2 363.0,1286.8 366.2,1241.6 370.6,1271.7 373.4,1262.3 375.3,1303.7 380.0,1290.6 382.8,1260.4 385.6,1252.0 388.5,1275.5 390.3,1325.4 392.8,1208.7 395.4,1286.8 398.4,1378.1 400.7,1305.6 402.6,1275.5 406.3,1271.7 409.2,1243.5 412.0,1275.5 415.8,1305.6 418.6,1327.3 421.4,1286.8 423.9,1252.9 426.1,1298.1 428.0,1264.2 431.8,1315.0 434.6,1260.4 438.0,1218.1 440.2,1286.8 442.1,1353.6 444.9,1296.2 446.8,1256.7 453.4,1257.6 455.3,1305.6 458.1,1358.4 460.9,1309.4 463.8,1330.1 467.5,1326.3 470.4,1294.3 473.2,1343.3 477.0,1364.0 480.7,1296.2 483.5,1358.4 486.4,1377.2 489.2,1324.5 492.6,1284.9 495.8,1341.4 498.6,1320.7 501.4,1290.6 503.3,1341.4 505.0,1343.3 507.8,1301.9 510.6,1268.0 513.5,1324.5 517.2,1283.0 521.6,1246.3 523.8,1298.1 526.7,1348.9 530.4,1298.1 534.2,1348.9 538.0,1290.6 540.8,1350.8 543.6,1324.5 546.4,1367.8 550.2,1332.0 554.0,1378.1 556.8,1335.8 559.6,1369.6 562.4,1328.2 565.3,1318.8 569.0,1324.5 571.8,1361.2 575.6,1315.0 579.4,1268.9 582.2,1337.6 586.3,1246.3 589.7,1375.3 592.6,1286.8 595.4,1290.6 599.1,1305.6 600.1,1350.8 604.8,1347.1 607.6,1309.4 610.1,1268.9 611.9,1372.5 615.1,1324.5 618.0,1352.7 622.7,1316.9 625.5,1358.4 629.3,1343.3 631.5,1371.5 634.9,1328.2 638.7,1362.1 641.5,1316.9 644.3,1347.1 645.8,1300.0 648.1,1373.4 651.9,1248.2 654.7,1303.7 656.6,1352.7 660.3,1350.8 662.8,1236.0 666.0,1330.1 669.8,1358.4 672.6,1315.0 675.4,1343.3 677.3,1377.2 680.1,1352.7 682.9,1306.6 685.8,1377.2 689.5,1324.5 692.3,1367.8 697.1,1315.0 698.9,1377.2 700.8,1410.1 703.6,1362.1 707.4,1318.8 710.2,1360.2 713.1,1294.3 715.9,1343.3 718.7,1371.5 722.5,1324.5 726.2,1343.3 729.4,1281.2 731.9,1324.5 734.7,1371.5 737.5,1316.9 740.4,1284.0 744.1,1378.1 747.9,1309.4 751.3,1263.3 754.5,1367.8 758.2,1300.0 762.0,1393.2 765.8,1305.6 768.6,1298.1 770.5,1379.1 775.9,1273.6 779.7,1343.3 783.5,1315.0 788.2,1333.9 791.0,1346.1 793.8,1298.1 796.7,1238.8 799.5,1353.6 801.4,1284.9 805.1,1305.6 808.0,1383.8 811.7,1286.8 815.5,1277.4 818.7,1265.1 821.7,1324.5 823.0,1375.3 825.8,1341.4 828.7,1383.8 831.1,1278.3 834.3,1324.5 838.1,1332.0 840.9,1362.1 843.7,1365.9 845.6,1244.4 848.8,1397.9 851.3,1388.5 854.1,1305.6 856.3,1259.5 859.4,1315.0 861.6,1354.6 863.5,1268.0 867.3,1389.4 871.0,1324.5 873.9,1320.7 876.3,1252.0 879.5,1298.1 881.4,1387.5 884.2,1296.2 888.0,1294.3 890.8,1333.9 894.0,1398.8 896.4,1324.5 899.3,1295.3 903.0,1324.5 904.9,1367.8 909.1,1390.4" fill="none" stroke="#027ac8" stroke-width="5.2" stroke-linejoin="round" stroke-linecap="round"/>
<polyline points="913.4,1336.7 918.1,1335.8 921.9,1306.6 920.9,1360.2 925.6,1379.1 928.5,1320.7 930.3,1260.4 934.1,1390.4 936.9,1281.2 940.7,1333.9 943.1,1239.7 946.3,1286.8 949.2,1269.9 952.0,1275.5 954.8,1346.1 958.6,1294.3 961.4,1335.8 965.2,1258.6 968.0,1309.4 970.8,1343.3 973.6,1407.3 977.4,1371.5 981.2,1332.0 984.9,1371.5 988.7,1316.9 991.5,1358.4 995.7,1407.3 998.1,1343.3 1000.9,1305.6 1004.7,1255.7 1008.5,1328.2 1011.3,1266.1 1016.0,1402.6 1018.8,1269.9 1022.6,1347.1 1025.4,1284.9 1029.2,1315.0 1033.0,1358.4 1036.7,1367.8 1039.5,1409.2 1043.3,1377.2 1045.0,1377.2 1046.9,1335.8 1050.6,1392.2 1053.5,1352.7 1057.8,1395.1 1061.0,1362.1 1063.8,1290.6 1067.6,1341.4 1071.4,1236.9 1074.2,1305.6 1078.9,1286.8 1082.7,1341.4 1085.5,1268.0 1088.3,1217.1 1091.1,1326.3 1094.9,1284.9 1098.7,1324.5 1102.4,1395.1 1105.3,1320.7 1108.1,1356.5 1111.8,1307.5 1115.6,1315.0 1118.8,1389.4 1121.3,1352.7 1126.0,1373.4 1127.8,1298.1 1131.2,1227.5 1134.4,1286.8 1138.2,1319.8 1142.9,1286.8 1147.6,1206.8 1151.9,1305.6 1155.1,1242.6 1158.9,1269.9 1162.7,1301.9 1165.5,1369.6 1170.2,1352.7 1173.4,1299.0 1176.8,1352.7 1179.1,1383.8 1183.4,1374.4 1180.6,1362.1 1187.2,1341.4 1190.0,1327.3 1193.4,1394.1 1195.6,1333.9 1198.5,1324.5 1200.3,1263.3 1202.2,1343.3 1206.0,1335.8 1208.8,1305.6 1213.0,1247.3 1216.3,1303.7 1220.1,1260.4 1222.9,1311.3 1226.7,1347.1 1230.5,1315.0 1232.3,1368.7 1236.1,1326.3 1240.8,1362.1 1243.6,1332.0 1247.4,1382.8 1251.2,1402.6 1254.0,1371.5 1256.3,1252.9 1259.6,1301.9 1263.4,1364.9 1268.1,1259.5 1272.8,1320.7 1275.7,1256.7 1278.1,1209.6 1281.3,1252.9 1283.7,1299.0 1287.0,1215.3 1290.7,1268.0 1294.5,1300.0 1298.2,1318.8 1299.6,1237.8 1303.9,1275.5 1308.6,1277.4 1311.4,1349.9 1315.0,1350.9 1317.8,1298.1 1322.5,1252.9 1325.4,1298.1 1331.0,1245.4 1338.0,1236.0 1340.4,1268.0 1350.8,1280.2 1354.2,1223.7 1357.4,1271.8 1361.1,1275.5 1363.6,1200.2 1365.8,1279.3 1370.6,1298.1 1371.5,1324.5 1377.1,1335.8 1378.1,1382.9 1381.9,1343.3 1385.6,1345.2 1388.4,1282.1 1392.2,1357.4 1396.9,1332.0 1400.1,1378.2 1402.6,1305.7 1405.4,1242.6 1409.2,1312.3 1413.9,1250.1 1417.6,1332.0 1420.5,1283.1 1423.3,1301.9 1426.5,1333.0 1430.3,1205.8 1433.6,1305.7 1437.4,1385.7 1440.2,1324.5 1444.0,1371.6 1448.7,1249.2 1451.5,1315.1 1455.3,1357.4 1458.1,1279.3 1461.9,1324.5 1464.7,1342.4 1468.5,1286.8 1474.1,1218.1 1478.8,1286.8 1481.7,1301.9 1485.4,1325.4 1490.5,1207.7 1493.9,1279.3 1498.6,1286.8 1501.4,1318.8 1504.3,1290.6 1508.0,1333.0 1511.8,1301.9 1516.1,1227.5 1519.3,1330.1 1523.1,1356.5 1527.8,1305.7 1535.3,1263.3 1537.6,1335.8 1542.9,1254.8 1545.7,1311.3 1548.5,1301.0" fill="none" stroke="#027ac8" stroke-width="5.2" stroke-linejoin="round" stroke-linecap="round"/>
<line x1="242.8" y1="1240.7" x2="1595.3" y2="1238.8" stroke="#aaa7a5" stroke-width="3.2"/>
<line x1="242.8" y1="1311.3" x2="1595.3" y2="1309.8" stroke="#aaa7a5" stroke-width="3.2"/>
<line x1="242.8" y1="1384.7" x2="1595.3" y2="1383.8" stroke="#aaa7a5" stroke-width="3.2"/>
<line x1="513.5" y1="1169.5" x2="513.5" y2="1453.5" stroke="#a6a3a1" stroke-width="2.6"/>
<line x1="784" y1="1169.5" x2="784" y2="1453.5" stroke="#a6a3a1" stroke-width="2.6"/>
<line x1="1054.8" y1="1169.5" x2="1054.8" y2="1453.5" stroke="#a6a3a1" stroke-width="2.6"/>
<line x1="1326.7" y1="1169.5" x2="1326.7" y2="1453.5" stroke="#a6a3a1" stroke-width="2.2"/>
<line x1="512.0" y1="1169.5" x2="512.0" y2="1185.5" stroke="#77777a" stroke-width="2.4"/>
<line x1="512.0" y1="1437.5" x2="512.0" y2="1453.5" stroke="#5c5c60" stroke-width="2.8"/>
<line x1="782.5" y1="1169.5" x2="782.5" y2="1185.5" stroke="#77777a" stroke-width="2.4"/>
<line x1="782.5" y1="1437.5" x2="782.5" y2="1453.5" stroke="#5c5c60" stroke-width="2.8"/>
<line x1="1053.3" y1="1169.5" x2="1053.3" y2="1185.5" stroke="#77777a" stroke-width="2.4"/>
<line x1="1053.3" y1="1437.5" x2="1053.3" y2="1453.5" stroke="#5c5c60" stroke-width="2.8"/>
<line x1="242.8" y1="1240.7" x2="255.8" y2="1240.7" stroke="#444" stroke-width="3.2"/>
<line x1="1580.3" y1="1242" x2="1595.3" y2="1242" stroke="#444" stroke-width="3.2"/>
<line x1="242.8" y1="1311.3" x2="255.8" y2="1311.3" stroke="#444" stroke-width="3.2"/>
<line x1="1580.3" y1="1312.8" x2="1595.3" y2="1312.8" stroke="#444" stroke-width="3.2"/>
<line x1="242.8" y1="1383.8" x2="255.8" y2="1383.8" stroke="#444" stroke-width="3.2"/>
<line x1="1580.3" y1="1383.8" x2="1595.3" y2="1383.8" stroke="#444" stroke-width="3.2"/>
<rect x="242.8" y="1169.5" width="1352.5" height="284.0" fill="none" stroke="#424242" stroke-width="5.3"/>
<circle cx="1326.7" cy="1177.8" r="12.6" fill="#fff" stroke="#7a7a7a" stroke-width="2.2"/>
<circle cx="1326.7" cy="1449.3" r="12.6" fill="#fff" stroke="#7a7a7a" stroke-width="2.2"/>
<circle cx="1402.2" cy="1206.6" r="17.5" fill="#fff" stroke="#e9e9e9" stroke-width="2"/>
<path d="M1391.2 1206.6H1413.2M1402.2 1195.6V1217.6" stroke="#333" stroke-width="2.6" fill="none"/>
<text class="yc" transform="translate(227,1189) scale(0.955,1)" font-size="55.5" text-anchor="end" fill="#111">0.1</text>
<text class="yc" transform="translate(227,1260.5) scale(0.955,1)" font-size="55.5" text-anchor="end" fill="#111">0.05</text>
<text class="yc" transform="translate(227,1331) scale(0.955,1)" font-size="55.5" text-anchor="end" fill="#111">0</text>
<text class="yc" transform="translate(227,1402) scale(0.955,1)" font-size="55.5" text-anchor="end" fill="#111">-0.05</text>
<text class="yc" transform="translate(227,1473) scale(0.955,1)" font-size="55.5" text-anchor="end" fill="#111">-0.1</text>
<text class="xc" transform="translate(242.7,1518.5) scale(0.955,1)" font-size="55.5" text-anchor="middle" fill="#111">0</text>
<text class="xc" transform="translate(515.2,1518.5) scale(0.955,1)" font-size="55.5" text-anchor="middle" fill="#111">100</text>
<text class="xc" transform="translate(783.9,1518.5) scale(0.955,1)" font-size="55.5" text-anchor="middle" fill="#111">200</text>
<text class="xc" transform="translate(1053.9,1518.5) scale(0.955,1)" font-size="55.5" text-anchor="middle" fill="#111">300</text>
<text class="xc" transform="translate(1325.5,1518.5) scale(0.955,1)" font-size="55.5" text-anchor="middle" fill="#111">400</text>
<text class="xc" transform="translate(1595.6,1518.5) scale(0.955,1)" font-size="55.5" text-anchor="middle" fill="#111">500</text>
</g>
<text id="xl" x="711" y="1611" font-size="63.5" textLength="502.5" lengthAdjust="spacingAndGlyphs" fill="#000">Displacement (μm)</text>
<text id="yl" transform="translate(66.5,992) rotate(-90)" font-size="64" textLength="296" lengthAdjust="spacingAndGlyphs" fill="#000">Error (μm)</text>
</svg></body></html>
